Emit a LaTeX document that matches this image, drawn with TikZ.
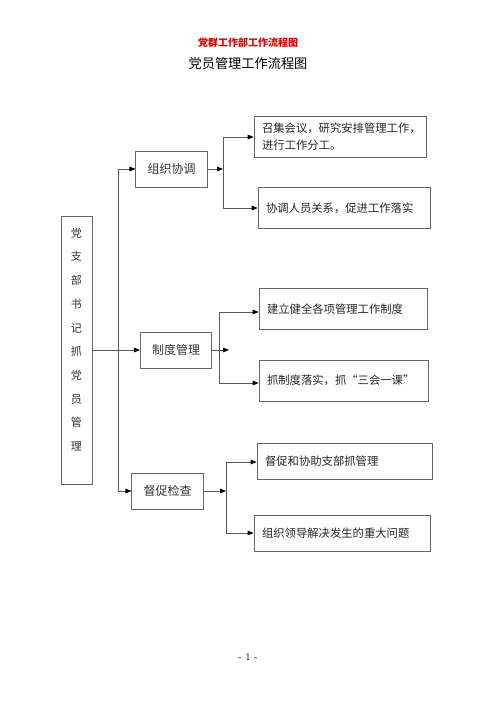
\documentclass[tikz,border=0pt]{standalone}
\usepackage{fontspec}
\newfontfamily\cjk{Noto Sans CJK SC}
\usetikzlibrary{arrows.meta}
\begin{document}
\begin{tikzpicture}[x=0.75pt,y=-0.75pt,
  box/.style={draw=black!60,line width=0.6pt,rectangle,inner sep=0pt},
  lvbox/.style={box,minimum width=53.5pt,minimum height=27pt,font=\cjk\fontsize{9}{11}\selectfont,text=black!80},
  rbox/.style={box,minimum height=31pt,inner xsep=6pt,align=left,font=\cjk\fontsize{8.5}{12.75}\selectfont,text=black!85},
  conn/.style={draw=black!65,line width=0.6pt},
  arr/.style={conn,-{Triangle[length=4.5pt,width=3.5pt,black]}}]
\path[fill=white] (0,0) rectangle (496,702);
\useasboundingbox (0,0) rectangle (496,702);
% titles
\node[font=\cjk\bfseries\fontsize{7.5}{9}\selectfont,text={rgb,255:red,230;green,0;blue,0}] (t0) at (248,43) {党群工作部工作流程图};
\node[font=\cjk\fontsize{9.9}{12}\selectfont] (t1) at (248,63) {党员管理工作流程图};
% root
\node[box,minimum width=23.25pt,minimum height=201pt] (root) at (76.5,350) {};
\node[font=\cjk\fontsize{8.3}{17.8}\selectfont,align=center,text=black!80] (roottext) at (76.5,339.5) {党\\支\\部\\书\\记\\抓\\党\\员\\管\\理};
% level 1
\node[lvbox] (L1) at (171.5,169) {组织协调};
\node[lvbox] (L2) at (176,350) {制度管理};
\node[lvbox] (L3) at (167.5,491) {督促检查};
% level 2
\node[rbox,text width=117pt,minimum height=30.75pt] (B1) at (340,136.5) {召集会议，研究安排管理工作，\\进行工作分工。};
\node[rbox,text width=117pt] (B2) at (344,208) {协调人员关系，促进工作落实};
\node[rbox,text width=114pt] (B3) at (343,309) {建立健全各项管理工作制度};
\node[rbox,text width=114.75pt,minimum height=30.75pt] (B4) at (343.5,380.5) {抓制度落实，抓“三会一课”};
\node[rbox,text width=119.25pt,minimum height=27pt] (B5) at (344.5,461) {督促和协助支部抓管理};
\node[rbox,text width=120pt,minimum height=27pt] (B6) at (342,533) {组织领导解决发生的重大问题};
% coordinates
\coordinate (tt) at (118,169);
\coordinate (tb) at (118,491);
\coordinate (e1) at (223,169);
\coordinate (b1t) at (223,137);
\coordinate (b1b) at (223,208);
\coordinate (e2) at (229,350);
\coordinate (b2t) at (219,312);
\coordinate (b2b) at (219,383);
\coordinate (e3) at (226,491);
\coordinate (b3t) at (226,462);
\coordinate (b3b) at (226,533);
% connectors
\draw[arr] (root.east) -- (L2.west);
\draw[conn] (tt) -- (tb);
\draw[arr] (tt) -- (L1.west);
\draw[arr] (tb) -- (L3.west);
\draw[arr] (L1.east) -- (e1);
\draw[conn] (b1t) -- (b1b);
\draw[arr] (b1t) -- (B1.west |- b1t);
\draw[arr] (b1b) -- (B2.west |- b1b);
\draw[arr] (L2.east) -- (e2);
\draw[conn] (b2t) -- (b2b);
\draw[arr] (b2t) -- (B3.west |- b2t);
\draw[arr] (b2b) -- (B4.west |- b2b);
\draw[arr] (L3.east) -- (e3);
\draw[conn] (b3t) -- (b3b);
\draw[arr] (b3t) -- (B5.west |- b3t);
\draw[arr] (b3b) -- (B6.west |- b3b);
% footer
\node[font=\fontsize{7.5}{9}\selectfont] (pg) at (248,657) {- 1 -};
\end{tikzpicture}
\end{document}
